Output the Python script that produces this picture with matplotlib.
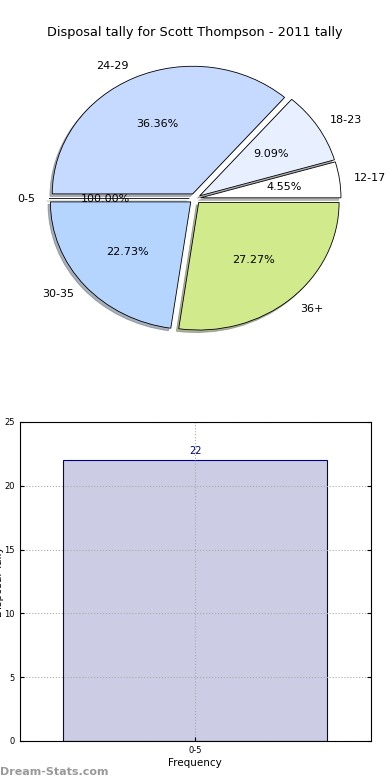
import matplotlib
matplotlib.use('Agg')
import matplotlib.pyplot as plt

# Datos del gráfico
grupos = ['12-17', '18-23', '24-29', '0-5', '30-35', '36+']
conteo = [1, 2, 8, 0, 5, 6]
colores = ['#ffffff', '#e8f0ff', '#c6daff', '#b9dcf5', '#b5d5ff', '#d0ea8c']

barra_grupos = ['0-5']
barra_valores = [22]

titulo = 'Disposal tally for Scott Thompson - 2011 tally'


def etiqueta_pct(p):
    # la porción vacía aparece como 100.00% en el original
    return f'{p:.2f}%' if p > 0 else '100.00%'


fig, (ax1, ax2) = plt.subplots(2, 1, figsize=(3.9, 7.8), dpi=100)
plt.subplots_adjust(left=0.05, right=0.95, bottom=0.05, top=0.95, hspace=0.2)

# Gráfico de torta
ax1.pie(conteo, labels=grupos, colors=colores, explode=[0.04] * len(conteo),
        autopct=etiqueta_pct, startangle=0,
        shadow=dict(ox=-0.012, oy=-0.014, shade=0.55),
        wedgeprops=dict(edgecolor='black', linewidth=0.6),
        textprops=dict(fontsize=8))
ax1.set_aspect('auto')
ax1.set_xlim(-1.25, 1.25)
ax1.set_ylim(-1.25, 1.25)
ax1.set_title(titulo, fontsize=9.3, pad=2)

# Gráfico de barras
x = list(range(len(barra_grupos)))
ax2.bar(x, barra_valores, width=0.6, color='#ccccE4', edgecolor='#000080', linewidth=0.8)
for xi, v in zip(x, barra_valores):
    ax2.text(xi, v + 0.3, str(v), ha='center', va='bottom', fontsize=7, color='#000080')
ax2.set_xlim(-0.4, 0.4)
ax2.set_ylim(0, 25)
ax2.set_yticks([0, 5, 10, 15, 20, 25])
ax2.set_xticks(x)
ax2.set_xticklabels(barra_grupos)
ax2.tick_params(labelsize=6, direction='in', length=3, right=True, top=False)
ax2.set_xlabel('Frequency', fontsize=7.5, labelpad=2)
ax2.set_ylabel('Disposal Tally', fontsize=7.5)
ax2.yaxis.set_label_coords(-0.045, 0.5)
ax2.grid(True, linestyle=':', color='#aaaaaa', linewidth=0.8)
ax2.set_axisbelow(False)
for s in ax2.spines.values():
    s.set_zorder(4)

fig.text(0.0, 0.006, 'Dream-Stats.com', fontsize=8, color='#999999', weight='bold')

plt.savefig('out.png', dpi=100)
